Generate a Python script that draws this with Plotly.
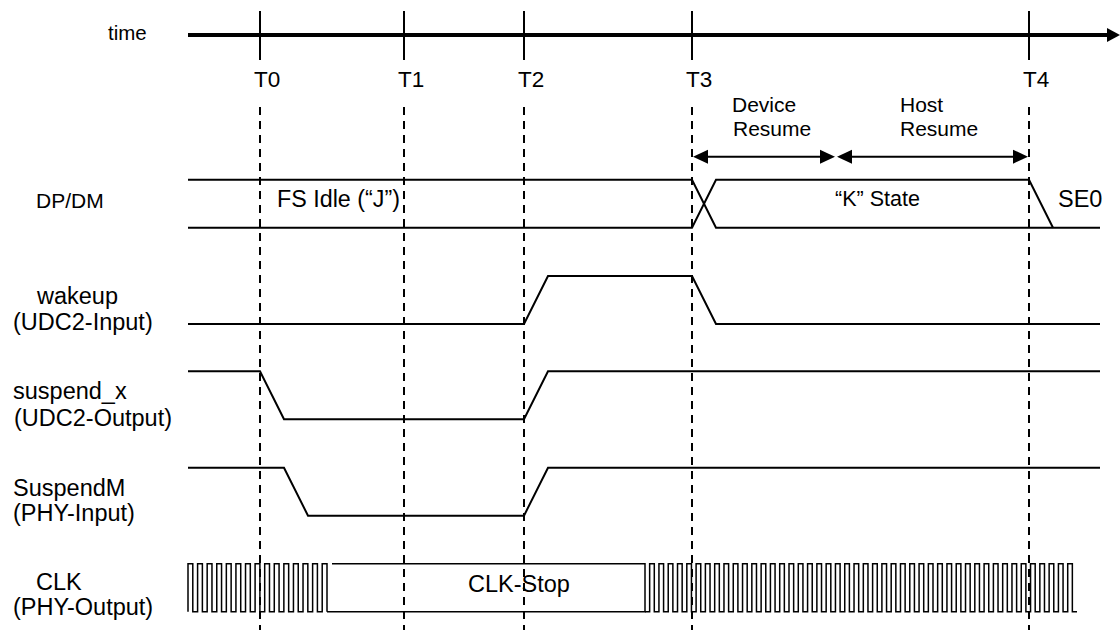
import plotly.graph_objects as go

# ---------------- data ----------------
T_LABELS = ["T0", "T1", "T2", "T3", "T4"]
T_TIMES = [260, 404, 524, 692, 1029]
AXIS_START = 188
AXIS_END = 1120

SIGNAL_NAMES = ["DP/DM", "wakeup", "suspend_x", "SuspendM", "CLK"]
SIGNAL_SUBS = ["", "(UDC2-Input)", "(UDC2-Output)", "(PHY-Input)", "(PHY-Output)"]

# DP/DM: two crossing lines (levels 1 = upper rail, 0 = lower rail)
DP_TIMES = [188, 692, 716, 1100]
DP_LEVELS = [1, 1, 0, 0]
DM_TIMES = [188, 692, 716, 1029, 1053]
DM_LEVELS = [0, 0, 1, 1, 0]

WAKEUP_TIMES = [188, 524, 548, 692, 716, 1100]
WAKEUP_LEVELS = [0, 0, 1, 1, 0, 0]

SUSPEND_X_TIMES = [188, 260, 284, 524, 548, 1100]
SUSPEND_X_LEVELS = [1, 1, 0, 0, 1, 1]

SUSPENDM_TIMES = [188, 284, 308, 524, 548, 1100]
SUSPENDM_LEVELS = [1, 1, 0, 0, 1, 1]

# CLK: running / stopped / running  (start, stop, pulse count)
CLK_RUN1 = (188, 327, 15)
CLK_STOP = (327, 645)
CLK_RUN2 = (645, 1077, 46)

DEVICE_RESUME = (692, 836)
HOST_RESUME = (836, 1029)

# ---------------- layout constants ----------------
ROW_LOW = [227.7, 324, 419.3, 515.7, 611.7]
SWING = 48
FONT = "Arial, Liberation Sans, sans-serif"
BLACK = "#000000"

fig = go.Figure()


def row_y(row, levels):
    return [ROW_LOW[row] - SWING * v for v in levels]


def add_line(xs, ys, width=2.0):
    fig.add_trace(go.Scatter(x=xs, y=ys, mode="lines",
                             line=dict(color=BLACK, width=width),
                             hoverinfo="skip", showlegend=False))


# DP/DM
add_line(DP_TIMES, row_y(0, DP_LEVELS))
add_line(DM_TIMES, row_y(0, DM_LEVELS))
# wakeup, suspend_x, SuspendM
add_line(WAKEUP_TIMES, row_y(1, WAKEUP_LEVELS))
add_line(SUSPEND_X_TIMES, row_y(2, SUSPEND_X_LEVELS))
add_line(SUSPENDM_TIMES, row_y(3, SUSPENDM_LEVELS))


def clock(a, b, n, start_high):
    halves = 2 * n - 1 if start_high else 2 * n + 1
    h = (b - a) / halves
    xs, lv = [], []
    if start_high:
        xs.append(a)
        lv.append(0)
    for i in range(halves):
        L = (1 if start_high else 0) ^ (i % 2)
        xs += [a + i * h, a + (i + 1) * h]
        lv += [L, L]
    if start_high:
        xs.append(b)
        lv.append(0)
    return xs, lv


cx, cl = clock(CLK_RUN1[0], CLK_RUN1[1], CLK_RUN1[2], True)
add_line(cx, row_y(4, cl), 1.5)
# stopped box
add_line([CLK_STOP[0], CLK_STOP[1], CLK_STOP[1], CLK_STOP[0] + 5],
         row_y(4, [0, 0, 1, 1]), 1.5)
cx, cl = clock(CLK_RUN2[0], CLK_RUN2[1], CLK_RUN2[2], False)
add_line(cx, row_y(4, cl), 1.5)

shapes = []
# time axis
AXIS_Y = 35
shapes.append(dict(type="line", x0=AXIS_START, x1=AXIS_END - 12, y0=AXIS_Y, y1=AXIS_Y,
                   line=dict(color=BLACK, width=4)))
shapes.append(dict(type="path",
                   path=f"M {AXIS_END - 13},{AXIS_Y - 7} L {AXIS_END},{AXIS_Y} L {AXIS_END - 13},{AXIS_Y + 7} Z",
                   fillcolor=BLACK, line=dict(width=0)))
for t in T_TIMES:
    shapes.append(dict(type="line", x0=t, x1=t, y0=11, y1=60,
                       line=dict(color=BLACK, width=2)))
    shapes.append(dict(type="line", x0=t, x1=t, y0=107, y1=632, layer="below",
                       line=dict(color=BLACK, width=2, dash="8px,6px")))

# resume arrows
ARROW_Y = 156.7
HL, HH = 15, 7
for (a, b) in (DEVICE_RESUME, HOST_RESUME):
    a2, b2 = a + 1, b - 1
    shapes.append(dict(type="line", x0=a2 + HL - 2, x1=b2 - HL + 2, y0=ARROW_Y, y1=ARROW_Y,
                       line=dict(color=BLACK, width=2)))
    shapes.append(dict(type="path",
                       path=f"M {a2},{ARROW_Y} L {a2 + HL},{ARROW_Y - HH} L {a2 + HL},{ARROW_Y + HH} Z",
                       fillcolor=BLACK, line=dict(width=0)))
    shapes.append(dict(type="path",
                       path=f"M {b2},{ARROW_Y} L {b2 - HL},{ARROW_Y - HH} L {b2 - HL},{ARROW_Y + HH} Z",
                       fillcolor=BLACK, line=dict(width=0)))

annotations = []


def txt(text, x, y, size):
    annotations.append(dict(text=text, x=x, y=y, xref="x", yref="y", showarrow=False,
                            xanchor="center", yanchor="middle", borderpad=0,
                            font=dict(family=FONT, size=size, color=BLACK)))


txt("time", 127.5, 32, 20.5)
for lab, t in zip(T_LABELS, T_TIMES):
    txt(lab, t + 7, 79, 22.5)

txt(SIGNAL_NAMES[0], 70, 200, 21)
txt(SIGNAL_NAMES[1], 77, 296.2, 23.5)
txt(SIGNAL_SUBS[1], 83, 321.8, 23.5)
txt(SIGNAL_NAMES[2], 70, 391.2, 23.5)
txt(SIGNAL_SUBS[2], 92.7, 417.6, 23.5)
txt(SIGNAL_NAMES[3], 68.9, 487.8, 23.5)
txt(SIGNAL_SUBS[3], 73.9, 513.2, 23.5)
txt(SIGNAL_NAMES[4], 58.9, 582.3, 23.5)
txt(SIGNAL_SUBS[4], 83.4, 607.2, 23.5)

txt("FS Idle (\u201cJ\u201d)", 338.3, 198.7, 23.3)
txt("\u201cK\u201d State", 877.5, 199.2, 21.5)
txt("SE0", 1079.5, 199.2, 23.5)
txt("CLK-Stop", 519.2, 583.8, 23.5)
txt("Device", 764.3, 104.5, 21)
txt("Resume", 771.7, 128.8, 21)
txt("Host", 921.5, 104.5, 21)
txt("Resume", 939, 128.8, 21)

fig.update_layout(
    width=1120, height=630,
    margin=dict(l=0, r=0, t=0, b=0),
    paper_bgcolor="white", plot_bgcolor="white",
    xaxis=dict(range=[0, 1120], visible=False, fixedrange=True),
    yaxis=dict(range=[630, 0], visible=False, fixedrange=True),
    shapes=shapes, annotations=annotations,
    showlegend=False,
)

fig.write_html("out.html", config={"displayModeBar": False},
               post_script="document.body.style.margin='0px';document.body.style.overflow='hidden';")
